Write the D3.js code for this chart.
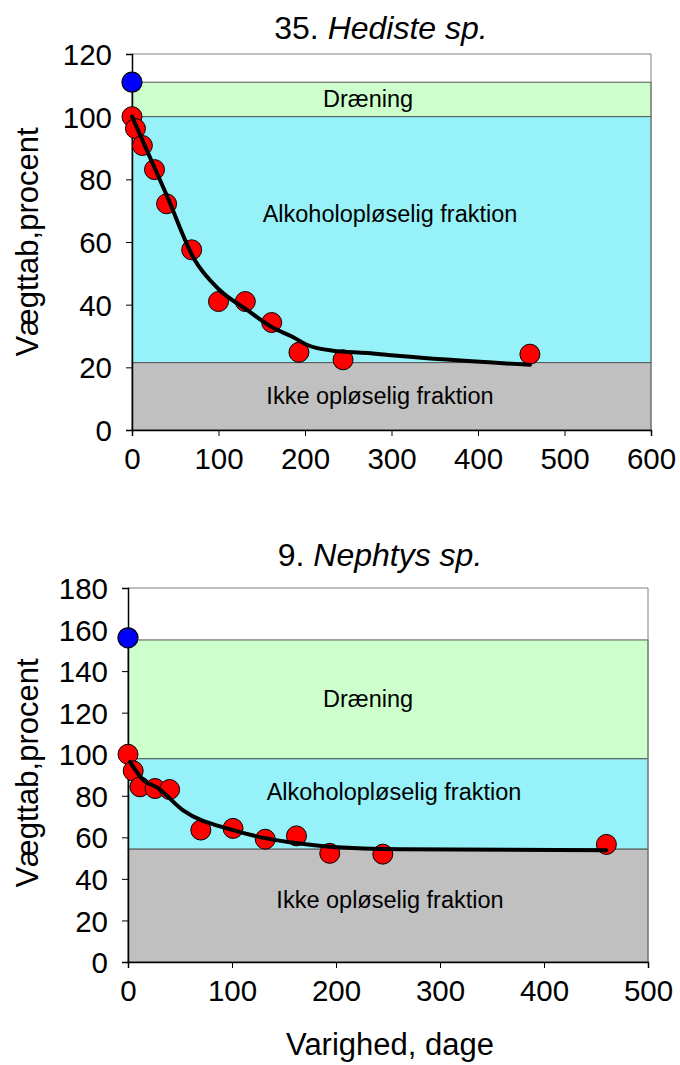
<!DOCTYPE html>
<html>
<head>
<meta charset="utf-8">
<script src="https://cdn.jsdelivr.net/npm/d3@7"></script>
<style>
  body { margin: 0; background: #fff; }
  svg { display: block; font-family: "Liberation Sans", Arial, sans-serif; }
</style>
</head>
<body>
<svg id="chart" width="680" height="1065"></svg>
<script>
// ---- Panel 1: 35. Hediste sp. ----
const hedisteDays   = [0, 4, 12, 26, 40, 69, 100, 131, 161.5, 193, 244, 460];
const hedisteValues = [100, 96.2, 90.8, 83.1, 72.2, 57.5, 41, 41, 34.3, 24.8, 22.4, 24.2];
const hedisteFitDays   = [0, 40, 72, 100, 133, 163, 186, 202, 232, 272, 310, 460];
const hedisteFitValues = [100, 75, 54.5, 45, 38.3, 32.6, 29.7, 27.2, 25.3, 24.6, 23.6, 20.8];
const hedisteWet = 111;            // blue start value (wet weight)
const hedisteBands = [111, 100, 21.5]; // tops of Dræning / Alkohol / Ikke opløselig
const hedisteXTicks = [0, 100, 200, 300, 400, 500, 600];
const hedisteYTicks = [0, 20, 40, 60, 80, 100, 120];

// ---- Panel 2: 9. Nephtys sp. ----
const nephtysDays   = [0, 5, 11.5, 26, 40, 70, 101, 132, 162, 194, 245, 460];
const nephtysValues = [100, 92, 84.3, 83.5, 83, 63.5, 64.3, 59.1, 60.7, 52.3, 51.9, 56.6];
const nephtysFitDays   = [2, 15, 28, 53, 101, 133, 165, 197, 262, 460];
const nephtysFitValues = [96.3, 87.5, 84, 73, 63.5, 59.5, 57, 55.4, 54.3, 53.8];
const nephtysWet = 156;
const nephtysBands = [155, 97.8, 54.3];
const nephtysXTicks = [0, 100, 200, 300, 400, 500];
const nephtysYTicks = [0, 20, 40, 60, 80, 100, 120, 140, 160, 180];

const bandNames = ["Dræning", "Alkoholopløselig fraktion", "Ikke opløselig fraktion"];
const bandColors = ["#ccffcc", "#96f2f8", "#c0c0c0"];

const svg = d3.select("#chart");

function panel(cfg) {
  const x = d3.scaleLinear().domain(cfg.xDomain).range(cfg.xRange);
  const y = d3.scaleLinear().domain(cfg.yDomain).range(cfg.yRange);
  const g = svg.append("g");

  // fraction bands
  const tops = cfg.bands;
  const bottoms = [tops[1], tops[2], 0];
  g.selectAll("rect.band").data(tops).join("rect")
    .attr("class", "band")
    .attr("x", x(cfg.xDomain[0]))
    .attr("width", x(cfg.xDomain[1]) - x(cfg.xDomain[0]))
    .attr("y", d => y(d))
    .attr("height", (d, i) => y(bottoms[i]) - y(d))
    .attr("fill", (d, i) => bandColors[i])
    .attr("stroke", "#555")
    .attr("stroke-width", 1);

  // band labels
  g.selectAll("text.bandlabel").data(bandNames).join("text")
    .attr("class", "bandlabel")
    .attr("x", (d, i) => cfg.labelX[i])
    .attr("y", (d, i) => y((tops[i] + bottoms[i]) / 2) + cfg.labelDy[i])
    .attr("text-anchor", "middle")
    .attr("font-size", 23.5)
    .attr("fill", "#000")
    .text(d => d);

  // plot frame (top and right)
  g.append("path")
    .attr("d", `M${x(cfg.xDomain[0])},${y(cfg.yDomain[1])}H${x(cfg.xDomain[1])}V${y(0)}`)
    .attr("fill", "none").attr("stroke", "#808080").attr("stroke-width", 1);

  // axes
  const xAxis = d3.axisBottom(x).tickValues(cfg.xTicks).tickSize(6).tickPadding(12);
  const yAxis = d3.axisLeft(y).tickValues(cfg.yTicks).tickSize(6).tickPadding(14);
  const gx = g.append("g").attr("transform", `translate(0,${y(0)})`).call(xAxis);
  const gy = g.append("g").attr("transform", `translate(${x(0)},0)`).call(yAxis);
  [gx, gy].forEach(a => {
    a.select(".domain").attr("stroke", "#000").attr("stroke-width", 1.5);
    a.selectAll(".tick line").attr("stroke", "#000").attr("stroke-width", 1);
    a.selectAll(".tick text").attr("font-size", 29.5).attr("fill", "#000")
      .attr("font-family", "'Liberation Sans', Arial, sans-serif");
  });
  gx.selectAll(".tick text").attr("dy", "0.71em");
  gy.selectAll(".tick text").attr("dy", "0.36em");

  // data points
  const pts = cfg.days.map((d, i) => [d, cfg.values[i]]);
  g.selectAll("circle.obs").data(pts).join("circle")
    .attr("class", "obs")
    .attr("cx", d => x(d[0])).attr("cy", d => y(d[1]))
    .attr("r", 10)
    .attr("fill", "#ff0000").attr("stroke", "#000").attr("stroke-width", 1);

  // fitted curve
  const fit = cfg.fitDays.map((d, i) => [d, cfg.fitValues[i]]);
  g.append("path").datum(fit)
    .attr("d", d3.line().x(d => x(d[0])).y(d => y(d[1])).curve(d3.curveMonotoneX))
    .attr("fill", "none").attr("stroke", "#000").attr("stroke-width", 4)
    .attr("stroke-linejoin", "round").attr("stroke-linecap", "round");

  // wet weight point
  g.append("circle")
    .attr("cx", x(0)).attr("cy", y(cfg.wet)).attr("r", 10)
    .attr("fill", "#0000ff").attr("stroke", "#000").attr("stroke-width", 1.2);

  // title
  const t = g.append("text")
    .attr("x", cfg.titleX).attr("y", cfg.titleY)
    .attr("text-anchor", "middle").attr("font-size", 32).attr("fill", "#000");
  t.append("tspan").text(cfg.titleNum + " ");
  t.append("tspan").attr("font-style", "italic").text(cfg.titleName);

  // y label
  const yMid = (cfg.yRange[0] + cfg.yRange[1]) / 2;
  g.append("text")
    .attr("transform", `translate(38,${yMid + cfg.yLabelDy}) rotate(-90)`)
    .attr("text-anchor", "middle").attr("font-size", 31).attr("fill", "#000")
    .text("Vægttab,procent");
}

panel({
  xDomain: [0, 600], xRange: [132, 651],
  yDomain: [0, 120], yRange: [430, 54],
  days: hedisteDays, values: hedisteValues,
  fitDays: hedisteFitDays, fitValues: hedisteFitValues,
  wet: hedisteWet, bands: hedisteBands,
  xTicks: hedisteXTicks, yTicks: hedisteYTicks,
  labelX: [368, 390, 380], labelDy: [8, -18, 8],
  titleX: 381, titleY: 39, titleNum: "35.", titleName: "Hediste sp.",
  yLabelDy: 0
});

panel({
  xDomain: [0, 500], xRange: [128, 648],
  yDomain: [0, 180], yRange: [962, 588],
  days: nephtysDays, values: nephtysValues,
  fitDays: nephtysFitDays, fitValues: nephtysFitValues,
  wet: nephtysWet, bands: nephtysBands,
  xTicks: nephtysXTicks, yTicks: nephtysYTicks,
  labelX: [368, 394, 390], labelDy: [8, -4, 2],
  titleX: 380, titleY: 566, titleNum: "9.", titleName: "Nephtys sp.",
  yLabelDy: -2
});

// x axis title
svg.append("text")
  .attr("x", 390).attr("y", 1055)
  .attr("text-anchor", "middle").attr("font-size", 31).attr("fill", "#000")
  .text("Varighed, dage");
</script>
</body>
</html>
